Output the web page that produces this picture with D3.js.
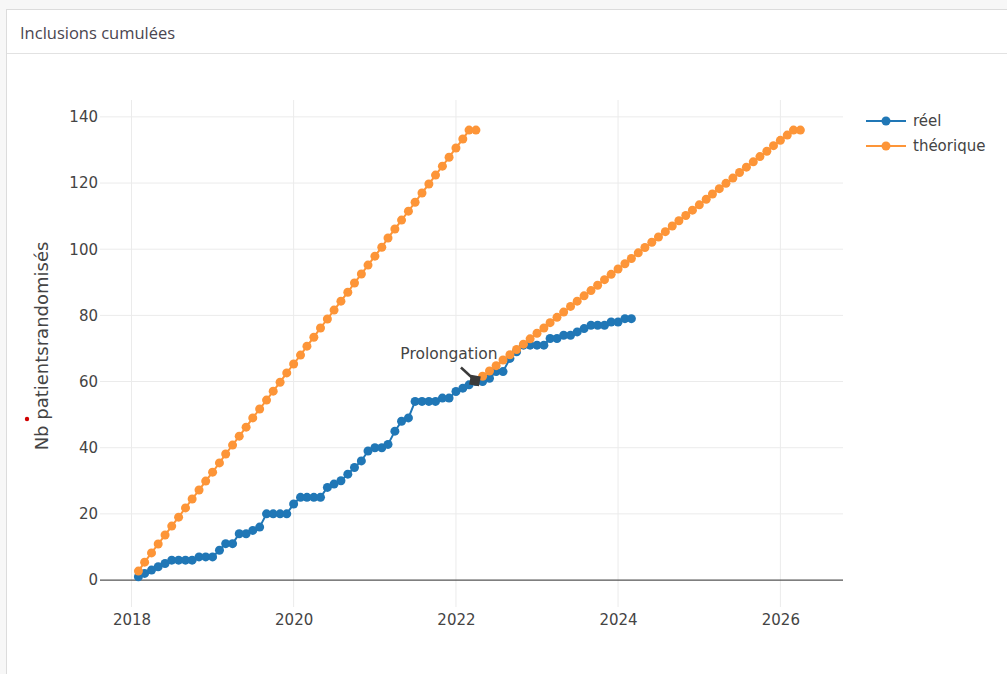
<!DOCTYPE html>
<html lang="fr">
<head>
<meta charset="UTF-8">
<title>Inclusions cumulées</title>
<style>
    body {
        margin: 0;
        background: #f7f7f7;
        font-family: "DejaVu Sans", Verdana, sans-serif;
    }
    #card {
        position: absolute;
        left: 6px;
        top: 9px;
        width: 1010px;
        height: 680px;
        background: #fff;
        border: 1px solid #dcdcdc;
    }
    #card .head {
        height: 43px;
        border-bottom: 1px solid #e2e2e2;
        font-family: "Open Sans", sans-serif;
        font-size: 16.5px;
        color: #4a4550;
        line-height: 46px;
        padding-left: 13px;
    }
    svg { position: absolute; left: 0; top: 0; }
</style>
</head>
<body>
<div id="card"><div class="head">Inclusions cumulées</div></div>
<div id="chart"></div>
<script src="https://d3js.org/d3.v7.min.js"></script>
<script>
// cumul réel, mensuel à partir de 2018-02
const reelStart = "2018-02";
const reel = [
    1, 2, 3, 4, 5, 6, 6, 6, 6, 7, 7,
    7, 9, 11, 11, 14, 14, 15, 16, 20, 20, 20, 20,
    23, 25, 25, 25, 25, 28, 29, 30, 32, 34, 36, 39,
    40, 40, 41, 45, 48, 49, 54, 54, 54, 54, 55, 55,
    57, 58, 59, 60, 60, 61, 63, 63, 67, 69, 71, 71,
    71, 71, 73, 73, 74, 74, 75, 76, 77, 77, 77, 78,
    78, 79, 79
];

// théorique initial, mensuel à partir de 2018-02
const theoStart = "2018-02";
const theorique = [
    2.7, 5.4, 8.2, 10.9, 13.6, 16.3, 19.0, 21.8, 24.5, 27.2, 29.9,
    32.6, 35.4, 38.1, 40.8, 43.5, 46.2, 49.0, 51.7, 54.4, 57.1, 59.8, 62.6,
    65.3, 68.0, 70.7, 73.4, 76.2, 78.9, 81.6, 84.3, 87.0, 89.8, 92.5, 95.2,
    97.9, 100.6, 103.4, 106.1, 108.8, 111.5, 114.2, 117.0, 119.7, 122.4, 125.1,
    127.8, 130.6, 133.3, 136, 136
];

// théorique après prolongation, mensuel à partir de 2022-05
const prolStart = "2022-05";
const theoProlongation = [
    61.6, 63.2, 64.8, 66.5, 68.1, 69.7, 71.3, 72.9,
    74.6, 76.2, 77.8, 79.4, 81.0, 82.7, 84.3, 85.9, 87.5, 89.1, 90.8, 92.4,
    94.0, 95.6, 97.2, 98.9, 100.5, 102.1, 103.7, 105.3, 107.0, 108.6, 110.2, 111.8,
    113.4, 115.1, 116.7, 118.3, 119.9, 121.5, 123.2, 124.8, 126.4, 128.0, 129.6, 131.3,
    132.9, 134.5, 136, 136
];

const xTicks = ["2018-01-01", "2020-01-01", "2022-01-01", "2024-01-01", "2026-01-01"];
const yTicks = [0, 20, 40, 60, 80, 100, 120, 140];
const annotation = { date: "2022-04", value: 60, text: "Prolongation" };
const seriesNames = ["réel", "théorique"];
const colors = { reel: "#2077b6", theo: "#fd9538" };

const W = 1007, H = 674;
const parseMonth = d3.timeParse("%Y-%m");
const parseDay = d3.timeParse("%Y-%m-%d");

function toPoints(start, values) {
    const d0 = parseMonth(start);
    return values.map((v, i) => ({ date: d3.timeMonth.offset(d0, i), value: v }));
}

const reelPts = toPoints(reelStart, reel);
const theoPts = toPoints(theoStart, theorique);
const prolPts = toPoints(prolStart, theoProlongation);

const x = d3.scaleTime()
    .domain([parseDay("2017-08-12"), parseDay("2026-10-10")])
    .range([100, 843]);
const y = d3.scaleLinear()
    .domain([-8.15, 145.1])
    .range([607, 100]);

const svg = d3.select("#chart").append("svg")
    .attr("width", W)
    .attr("height", H);

// grille
svg.append("g").selectAll("line")
    .data(yTicks.filter(d => d !== 0))
    .join("line")
    .attr("x1", 100).attr("x2", 843)
    .attr("y1", d => y(d)).attr("y2", d => y(d))
    .attr("stroke", "#ebebeb").attr("stroke-width", 1);

svg.append("g").selectAll("line")
    .data(xTicks.map(parseDay))
    .join("line")
    .attr("x1", d => x(d)).attr("x2", d => x(d))
    .attr("y1", 100).attr("y2", 607)
    .attr("stroke", "#ebebeb").attr("stroke-width", 1);

// ligne du zéro
svg.append("line")
    .attr("x1", 100).attr("x2", 843)
    .attr("y1", y(0)).attr("y2", y(0))
    .attr("stroke", "#555").attr("stroke-width", 1.2);

// axes
const yAxis = svg.append("g")
    .attr("transform", "translate(100,0)")
    .call(d3.axisLeft(y).tickValues(yTicks).tickSize(0).tickPadding(2));
const xAxis = svg.append("g")
    .attr("transform", "translate(0,607)")
    .call(d3.axisBottom(x).tickValues(xTicks.map(parseDay)).tickSize(0).tickPadding(7)
        .tickFormat(d3.timeFormat("%Y")));
[yAxis, xAxis].forEach(g => {
    g.select(".domain").remove();
    g.selectAll("text")
        .attr("fill", "#444")
        .style("font-family", '"DejaVu Sans", Verdana, sans-serif')
        .style("font-size", "15px");
});

// titre axe Y
svg.append("text")
    .attr("transform", "translate(48,346) rotate(-90)")
    .attr("text-anchor", "middle")
    .attr("fill", "#444")
    .style("font-size", "18px")
    .text("Nb patientsrandomisés");

svg.append("circle")
    .attr("cx", 27).attr("cy", 419).attr("r", 2.2)
    .attr("fill", "#d00000");

const line = d3.line()
    .x(d => x(d.date))
    .y(d => y(d.value));

function drawSeries(pts, color) {
    const g = svg.append("g");
    g.append("path")
        .datum(pts)
        .attr("d", line)
        .attr("fill", "none")
        .attr("stroke", color)
        .attr("stroke-width", 2);
    g.selectAll("circle")
        .data(pts)
        .join("circle")
        .attr("cx", d => x(d.date))
        .attr("cy", d => y(d.value))
        .attr("r", 4.5)
        .attr("fill", color);
}

drawSeries(reelPts, colors.reel);
drawSeries(theoPts, colors.theo);
drawSeries(prolPts, colors.theo);

// annotation
const ax = x(parseMonth(annotation.date)), ay = y(annotation.value);
const ann = svg.append("g");
ann.append("line")
    .attr("x1", ax - 15).attr("y1", ay - 14)
    .attr("x2", ax - 3).attr("y2", ay - 3)
    .attr("stroke", "#3a3a3a").attr("stroke-width", 2.5);
ann.append("rect")
    .attr("x", -5).attr("y", -5).attr("width", 10).attr("height", 10)
    .attr("transform", `translate(${ax - 1},${ay - 1}) rotate(10)`)
    .attr("fill", "#3a3a3a");
ann.append("text")
    .attr("x", ax - 27).attr("y", ay - 27)
    .attr("text-anchor", "middle")
    .attr("dominant-baseline", "middle")
    .attr("fill", "#444")
    .style("font-size", "15.5px")
    .text(annotation.text);

// légende
const legend = svg.append("g").attr("transform", "translate(866,121)");
seriesNames.forEach((name, i) => {
    const c = i === 0 ? colors.reel : colors.theo;
    const row = legend.append("g").attr("transform", `translate(0,${i * 25})`);
    row.append("line")
        .attr("x1", 0).attr("x2", 40)
        .attr("stroke", c).attr("stroke-width", 2);
    row.append("circle").attr("cx", 20).attr("r", 4.5).attr("fill", c);
    row.append("text")
        .attr("x", 47)
        .attr("dominant-baseline", "middle")
        .attr("fill", "#444")
        .style("font-size", "15px")
        .text(name);
});
</script>
</body>
</html>
